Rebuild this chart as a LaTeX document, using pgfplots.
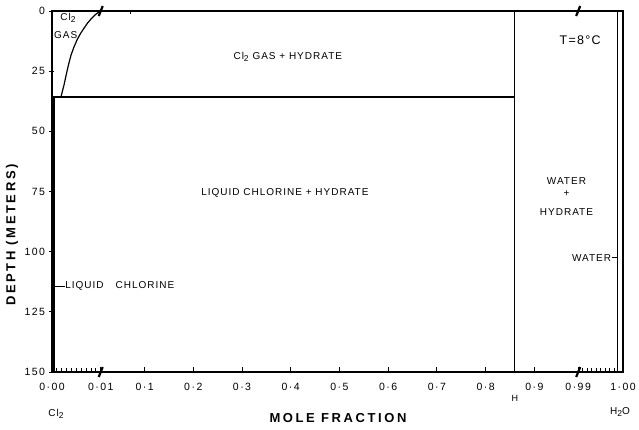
\documentclass[border=0pt]{standalone}
\usepackage{pgfplots}
\pgfplotsset{compat=1.18}
\usepackage{fontspec}
\setmainfont{Liberation Sans}
\newfontfamily\chartfont[LetterSpace=10]{Liberation Sans}
\newfontfamily\tickfont[LetterSpace=14]{Liberation Sans}
\newfontfamily\titlefont[LetterSpace=20]{Liberation Sans}
\newcommand{\sub}[1]{\raisebox{-0.45ex}{\fontsize{8.5}{8.5}\selectfont #1}}
\begin{document}
\begin{tikzpicture}
\useasboundingbox (-52pt,-58pt) rectangle (587pt,372pt);
\begin{axis}[
  at={(0pt,0pt)}, anchor=south west,
  scale only axis, width=571pt, height=361pt,
  xmin=-0.09, xmax=1.082, ymin=0, ymax=150,
  y dir=reverse,
  axis line style={line width=1.2pt},
  tick pos=left,
  xtick={-0.09,0.01,0.1,0.2,0.3,0.4,0.5,0.6,0.7,0.8,0.9,0.99,1.082},
  xticklabels={0·00,0·01,0·1,0·2,0·3,0·4,0·5,0·6,0·7,0·8,0·9,0·99,1·00},
  minor xtick={-0.08,-0.07,-0.06,-0.05,-0.04,-0.03,-0.02,-0.01,0.0,0.9992,1.0084,1.0176,1.0268,1.036,1.0452,1.0544,1.0636},
  xtick align=inside,
  ytick={0,25,50,75,100,125,150},
  yticklabels={0,25,50,75,100,125,150},
  ytick align=center,
  major tick length=5pt, minor tick length=4pt,
  every tick/.style={black, line width=0.9pt},
  tick label style={font=\tickfont\fontsize{10.5}{11}\selectfont},
  xticklabel style={yshift=-8pt},
  yticklabel style={xshift=-1pt},
  clip=false,
]
\addplot[black, line width=1.2pt] coordinates {(-0.09,35.7) (0.86,35.7)};
\addplot[black, line width=1.2pt] coordinates {(0.86,0) (0.86,150)};
\addplot[black, line width=1.2pt] coordinates {(-0.0859,35.7) (-0.0859,150)};
\addplot[black, line width=1.2pt] coordinates {(1.071,0) (1.071,150)};
\addplot[black, line width=1.2pt] coordinates {(-0.0715,35.7) (-0.0685,33.2) (-0.0653,30.7) (-0.0622,27.8) (-0.0591,24.9) (-0.0552,21.6) (-0.0509,18.3) (-0.0450,15.0) (-0.0386,12.0) (-0.0316,9.4) (-0.0242,7.1) (-0.0170,5.0) (-0.0098,3.3) (-0.0010,1.5) (0.009,0)};
\addplot[black, line width=0.9pt] coordinates {(-0.0859,114.3) (-0.064,114.3)};
\addplot[black, line width=0.9pt] coordinates {(1.059,102.6) (1.071,102.6)};

\draw[line width=2.2pt] ([xshift=-2pt,yshift=-5pt]axis cs:0.01,0) -- ([xshift=2pt,yshift=5pt]axis cs:0.01,0);
\draw[line width=2.2pt] ([xshift=-2pt,yshift=-5pt]axis cs:0.01,150) -- ([xshift=2pt,yshift=5pt]axis cs:0.01,150);
\draw[line width=2.2pt] ([xshift=-2pt,yshift=-5pt]axis cs:0.99,0) -- ([xshift=2pt,yshift=5pt]axis cs:0.99,0);
\draw[line width=2.2pt] ([xshift=-2pt,yshift=-5pt]axis cs:0.99,150) -- ([xshift=2pt,yshift=5pt]axis cs:0.99,150);
\draw[line width=0.9pt] (axis cs:0.071,0) -- ([yshift=-3pt]axis cs:0.071,0);

\begin{scope}[every node/.style={font=\chartfont\fontsize{10}{11}\selectfont, inner sep=0pt}]
\node at (axis cs:-0.057,2.9) {Cl\sub2};
\node at (axis cs:-0.062,10) {GAS};
\node at (axis cs:0.394,19.1) {Cl\sub2 GAS + HYDRATE};
\node[font=\chartfont\fontsize{12.5}{13}\selectfont] at (axis cs:0.994,12) {T=8°C};
\node at (axis cs:0.388,75.6) {LIQUID CHLORINE + HYDRATE};
\node at (axis cs:0.966,70.6) {WATER};
\node at (axis cs:0.966,76.0) {+};
\node at (axis cs:0.966,83.5) {HYDRATE};
\node[anchor=east] at (axis cs:1.058,102.6) {WATER};
\node[anchor=west] at (axis cs:-0.063,114.3) {LIQUID\hspace{12pt}CHLORINE};
\node[font=\chartfont\fontsize{9}{10}\selectfont] at ([yshift=-26pt]axis cs:0.86,150) {H};
\node at ([yshift=-42pt]axis cs:-0.082,150) {Cl\sub2};
\node at ([yshift=-40pt]axis cs:1.076,150) {H\sub2O};
\node[font=\titlefont\bfseries\fontsize{13}{14}\selectfont] at ([yshift=-46pt]axis cs:0.497,150) {MOLE FRACTION};
\node[font=\titlefont\bfseries\fontsize{13}{14}\selectfont, rotate=90] at ([xshift=-40pt]axis cs:-0.09,93.1) {DEPTH (METERS)};
\end{scope}
\end{axis}
\end{tikzpicture}
\end{document}
